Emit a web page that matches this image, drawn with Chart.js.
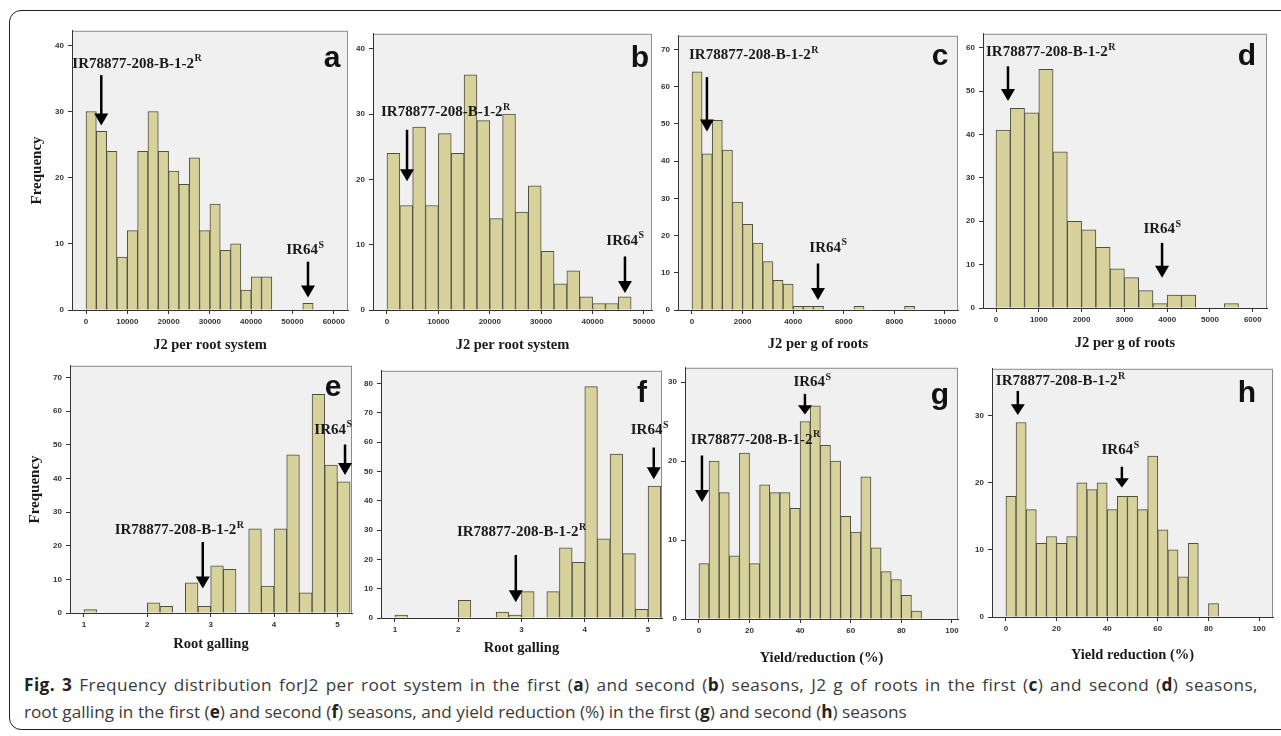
<!DOCTYPE html>
<html>
<head>
<meta charset="utf-8">
<script src="https://cdn.jsdelivr.net/npm/chart.js@4.4.1/dist/chart.umd.min.js"></script>
<style>
  html, body { margin: 0; padding: 0; background: #fff; width: 1281px; height: 736px; overflow: hidden; }
  #frame { position: absolute; left: 9px; top: 10px; width: 1320px; height: 718px; border: 1.5px solid #222; border-radius: 12px; }
  canvas { position: absolute; }
  #caption { position: absolute; left: 24px; top: 671px; width: 1234px; font-family: "Open Sans", "Noto Sans", sans-serif; font-size: 17.2px; line-height: 27px; color: #3a3a3a; }
  #caption .l1 { text-align: justify; text-align-last: justify; letter-spacing: 0.45px; white-space: normal; }
  #caption .l2 { white-space: nowrap; }
  #caption b { color: #222; }
</style>
</head>
<body>
<div id="frame"></div>
<div id="caption">
  <div class="l1"><b>Fig. 3</b> Frequency distribution forJ2 per root system in the first (<b>a</b>) and second (<b>b</b>) seasons, J2 g of roots in the first (<b>c</b>) and second (<b>d</b>) seasons,</div>
  <div class="l2">root galling in the first (<b>e</b>) and second (<b>f</b>) seasons, and yield reduction (%) in the first (<b>g</b>) and second (<b>h</b>) seasons</div>
</div>
<script>
// bin counts (zeros = empty bins)
const aCounts = [30, 27, 24, 8, 12, 24, 30, 24, 21, 19, 23, 12, 16, 9, 10, 3, 5, 5, 0, 0, 0, 1];
const bCounts = [24, 16, 28, 16, 27, 24, 36, 29, 14, 30, 15, 19, 9, 4, 6, 2, 1, 1, 2];
const cCounts = [64, 42, 51, 43, 29, 23, 18, 13, 8, 7, 1, 1, 1, 0, 0, 0, 1, 0, 0, 0, 0, 1];
const dCounts = [41, 46, 45, 55, 36, 20, 18, 14, 9, 7, 4, 1, 3, 3, 0, 0, 1];
const eCounts = [1, 0, 0, 0, 0, 3, 2, 0, 9, 2, 14, 13, 0, 25, 8, 25, 47, 6, 65, 44, 39];
const fCounts = [1, 0, 0, 0, 0, 6, 0, 0, 2, 1, 9, 0, 9, 24, 19, 79, 27, 56, 22, 3, 45];
const gCounts = [7, 20, 16, 8, 21, 7, 17, 16, 16, 14, 25, 27, 22, 20, 13, 11, 18, 9, 6, 5, 3, 1];
const hCounts = [18, 29, 16, 11, 12, 11, 12, 20, 19, 20, 16, 18, 18, 16, 24, 13, 10, 6, 11, 0, 2];

// tick labels
const aTicks = [0, 10000, 20000, 30000, 40000, 50000, 60000];
const bTicks = [0, 10000, 20000, 30000, 40000, 50000];
const cTicks = [0, 2000, 4000, 6000, 8000, 10000];
const dTicks = [0, 1000, 2000, 3000, 4000, 5000, 6000];
const gallTicks = [1, 2, 3, 4, 5];
const yieldTicks = [0, 20, 40, 60, 80, 100];
const freq40 = [0, 10, 20, 30, 40];
const freq60 = [0, 10, 20, 30, 40, 50, 60];
const freq70 = [0, 10, 20, 30, 40, 50, 60, 70];
const freq80 = [0, 10, 20, 30, 40, 50, 60, 70, 80];
const freq30 = [0, 10, 20, 30];

const resistant = 'IR78877-208-B-1-2';
const susceptible = 'IR64';

const panels = [
  { letter: 'a', box: [72, 27, 348, 310], counts: aCounts, start: 0, width: 2500, xMin: -3390, xMax: 63440, yMax: 42.2,
    xTicks: aTicks, yTicks: freq40, xTitle: 'J2 per root system', yTitle: 'Frequency', gap: 35, lx: 16, ly: 36,
    marks: [{ text: resistant, sup: 'R', tx: -3300, ty: 37.2, align: 'left', ax: 3700, ay1: 35.5, ay2: 27.9 },
            { text: susceptible, sup: 'S', tx: 53000, ty: 9.0, align: 'center', ax: 53750, ay1: 7.3, ay2: 1.9 }] },
  { letter: 'b', box: [373, 30, 652, 310], counts: bCounts, start: 0, width: 2500, xMin: -2720, xMax: 51560, yMax: 42.3,
    xTicks: bTicks, yTicks: freq40, xTitle: 'J2 per root system', gap: 35, lx: 12, ly: 33,
    marks: [{ text: resistant, sup: 'R', tx: -1170, ty: 30.3, align: 'left', ax: 3900, ay1: 27.6, ay2: 19.7 },
            { text: susceptible, sup: 'S', tx: 46300, ty: 10.6, align: 'center', ax: 46300, ay1: 8.2, ay2: 2.6 }] },
  { letter: 'c', box: [678, 32, 958, 310], counts: cCounts, start: 0, width: 400, xMin: -553, xMax: 10514, yMax: 73.7,
    xTicks: cTicks, yTicks: freq70, xTitle: 'J2 per g of roots', gap: 34, lx: 18, ly: 29,
    marks: [{ text: resistant, sup: 'R', tx: -119, ty: 68.4, align: 'left', ax: 590, ay1: 62.6, ay2: 48 },
            { text: susceptible, sup: 'S', tx: 5375, ty: 16.7, align: 'center', ax: 4980, ay1: 12.5, ay2: 2.7 }] },
  { letter: 'd', box: [983, 30, 1267, 308], counts: dCounts, start: 0, width: 1000 / 3, xMin: -304, xMax: 6332, yMax: 63.2,
    xTicks: dTicks, yTicks: freq60, xTitle: 'J2 per g of roots', gap: 35, lx: 20, ly: 31,
    marks: [{ text: resistant, sup: 'R', tx: -234, ty: 58.9, align: 'left', ax: 280, ay1: 55.7, ay2: 47.7 },
            { text: susceptible, sup: 'S', tx: 3880, ty: 18.2, align: 'center', ax: 3880, ay1: 15, ay2: 7 }] },
  { letter: 'e', box: [70, 362, 352, 613], counts: eCounts, start: 1, width: 0.2, xMin: 0.78, xMax: 5.23, yMax: 73.5,
    xTicks: gallTicks, yTicks: freq70, xTitle: 'Root galling', yTitle: 'Frequency', gap: 31, lx: 19, ly: 30,
    marks: [{ text: resistant, sup: 'R', tx: 1.485, ty: 24.6, align: 'left', ax: 2.875, ay1: 21.1, ay2: 7.3 },
            { text: susceptible, sup: 'S', tx: 4.93, ty: 54.5, align: 'center', ax: 5.12, ay1: 50.1, ay2: 41 }] },
  { letter: 'f', box: [381, 367, 662, 618], counts: fCounts, start: 1, width: 0.2, xMin: 0.78, xMax: 5.22, yMax: 84.4,
    xTicks: gallTicks, yTicks: freq80, xTitle: 'Root galling', gap: 30, lx: 20, ly: 31,
    marks: [{ text: resistant, sup: 'R', tx: 1.98, ty: 29.2, align: 'left', ax: 2.91, ay1: 21.5, ay2: 5.4 },
            { text: susceptible, sup: 'S', tx: 5.02, ty: 64.2, align: 'center', ax: 5.09, ay1: 58.2, ay2: 47.4 }] },
  { letter: 'g', box: [685, 364, 958, 619], counts: gCounts, start: 0, width: 4, xMin: -5.5, xMax: 102.4, yMax: 31.8,
    xTicks: yieldTicks, yTicks: freq30, xTitle: 'Yield/reduction (%)', gap: 39, lx: 18, ly: 36,
    marks: [{ text: resistant, sup: 'R', tx: -3.2, ty: 22.7, align: 'left', ax: 1.2, ay1: 20.7, ay2: 14.8 },
            { text: susceptible, sup: 'S', tx: 44.7, ty: 30.0, align: 'center', ax: 41.9, ay1: 28.5, ay2: 25.9 }] },
  { letter: 'h', box: [992, 365, 1273, 617], counts: hCounts, start: 0, width: 4, xMin: -5.5, xMax: 105.5, yMax: 37,
    xTicks: yieldTicks, yTicks: freq30, xTitle: 'Yield reduction (%)', gap: 38, lx: 26, ly: 33,
    marks: [{ text: resistant, sup: 'R', tx: -4.0, ty: 35.1, align: 'left', ax: 4.7, ay1: 33.7, ay2: 30.1 },
            { text: susceptible, sup: 'S', tx: 45.1, ty: 24.9, align: 'center', ax: 45.8, ay1: 22.4, ay2: 19.3 }] }
];

const PAD_L = 60, PAD_T = 5, PAD_R = 25, PAD_B = 55;
const serif = '"Liberation Serif", "Times New Roman", serif';
const sans = '"Liberation Sans", Arial, sans-serif';

function drawLabel(ctx, m, x, y) {
  ctx.textBaseline = 'middle';
  ctx.fillStyle = '#1a1a1a';
  ctx.font = 'bold 15px ' + serif;
  const w1 = ctx.measureText(m.text).width;
  ctx.font = 'bold 10px ' + serif;
  const w2 = ctx.measureText(m.sup).width;
  let left = m.align === 'center' ? x - (w1 + w2) / 2 : x;
  ctx.textAlign = 'left';
  ctx.font = 'bold 15px ' + serif;
  ctx.fillText(m.text, left, y);
  ctx.font = 'bold 10px ' + serif;
  ctx.fillText(m.sup, left + w1 + 0.5, y - 5);
}

function drawArrow(ctx, x, y1, y2) {
  const head = Math.min(12, (y2 - y1) * 0.45);
  ctx.strokeStyle = '#000';
  ctx.fillStyle = '#000';
  ctx.lineWidth = 2.5;
  ctx.beginPath();
  ctx.moveTo(x, y1);
  ctx.lineTo(x, y2 - head + 1);
  ctx.stroke();
  ctx.beginPath();
  ctx.moveTo(x - 7, y2 - head);
  ctx.lineTo(x + 7, y2 - head);
  ctx.lineTo(x, y2);
  ctx.closePath();
  ctx.fill();
}

const panelPlugin = {
  id: 'panel',
  beforeDraw(chart) {
    const { ctx, chartArea: ca } = chart;
    ctx.save();
    ctx.fillStyle = '#f0f0f0';
    ctx.fillRect(ca.left, ca.top, ca.right - ca.left, ca.bottom - ca.top);
    ctx.restore();
  },
  afterDatasetsDraw(chart, args, opts) {
    const { ctx, chartArea: ca, scales: { x, y } } = chart;
    ctx.save();
    ctx.strokeStyle = '#8c8c8c';
    ctx.lineWidth = 1;
    ctx.strokeRect(ca.left + 0.5, ca.top + 0.5, ca.right - ca.left - 1, ca.bottom - ca.top);
    ctx.strokeStyle = '#333';
    ctx.beginPath();
    ctx.moveTo(ca.left + 0.5, ca.top);
    ctx.lineTo(ca.left + 0.5, ca.bottom + 0.5);
    ctx.lineTo(ca.right, ca.bottom + 0.5);
    ctx.stroke();
    opts.marks.forEach(m => {
      drawLabel(ctx, m, x.getPixelForValue(m.tx), y.getPixelForValue(m.ty));
      drawArrow(ctx, x.getPixelForValue(m.ax), y.getPixelForValue(m.ay1), y.getPixelForValue(m.ay2));
    });
    ctx.fillStyle = '#111';
    ctx.font = 'bold 30px ' + sans;
    ctx.textAlign = 'center';
    ctx.textBaseline = 'alphabetic';
    ctx.fillText(opts.letter, ca.right - opts.lx, ca.top + opts.ly);
    ctx.restore();
  }
};

panels.forEach(p => {
  const [l, t, r, b] = p.box;
  const cv = document.createElement('canvas');
  cv.width = r - l + PAD_L + PAD_R;
  cv.height = b - t + PAD_T + PAD_B;
  cv.style.left = (l - PAD_L) + 'px';
  cv.style.top = (t - PAD_T) + 'px';
  document.body.appendChild(cv);

  const titleFont = { family: serif, size: 14.5, weight: 'bold', lineHeight: 1.2 };
  const tickFont = { family: sans, size: 8, weight: 'bold' };

  new Chart(cv, {
    type: 'bar',
    data: {
      datasets: [{
        data: p.counts.map((c, i) => ({ x: p.start + (i + 0.5) * p.width, y: c })).filter(d => d.y > 0),
        backgroundColor: '#d7d29c',
        borderColor: '#4f4f42',
        borderWidth: 1,
        barPercentage: 1,
        categoryPercentage: 1
      }]
    },
    options: {
      responsive: false,
      animation: false,
      devicePixelRatio: 1,
      layout: { padding: { left: 0, top: PAD_T, right: PAD_R, bottom: 0 } },
      plugins: {
        legend: { display: false },
        tooltip: { enabled: false },
        panel: { marks: p.marks, letter: p.letter, lx: p.lx, ly: p.ly }
      },
      scales: {
        x: {
          type: 'linear',
          offset: false,
          min: p.xMin,
          max: p.xMax,
          afterBuildTicks: s => { s.ticks = p.xTicks.map(v => ({ value: v })); },
          afterFit: s => { s.height = PAD_B; },
          grid: { display: true, drawOnChartArea: false, drawTicks: true, tickLength: 4, color: '#333', offset: false },
          border: { display: true, color: '#333' },
          ticks: { font: tickFont, color: '#333', padding: 3, maxRotation: 0, autoSkip: false, callback: v => String(v) },
          title: { display: true, text: p.xTitle, color: '#1a1a1a', font: titleFont,
                   padding: { top: 0, bottom: PAD_B - p.gap - 8.7 } }
        },
        y: {
          min: 0,
          max: p.yMax,
          afterBuildTicks: s => { s.ticks = p.yTicks.map(v => ({ value: v })); },
          afterFit: s => { s.width = PAD_L; },
          grid: { display: true, drawOnChartArea: false, drawTicks: true, tickLength: 4, color: '#333' },
          border: { display: true, color: '#333' },
          ticks: { font: tickFont, color: '#333', padding: 4, callback: v => String(v) },
          title: { display: !!p.yTitle, text: p.yTitle || '', color: '#1a1a1a',
                   font: { family: serif, size: 15, weight: 'bold', lineHeight: 1.2 }, padding: { top: 16, bottom: 0 } }
        }
      }
    },
    plugins: [panelPlugin]
  });
});
</script>
</body>
</html>
